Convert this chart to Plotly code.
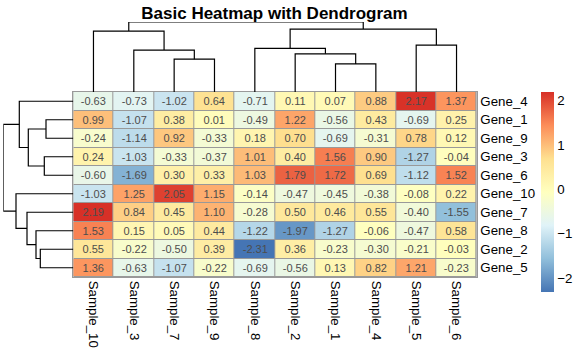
import plotly.graph_objects as go

# ---------------- data ----------------
samples = ["Sample_10", "Sample_3", "Sample_7", "Sample_9", "Sample_8",
           "Sample_2", "Sample_1", "Sample_4", "Sample_5", "Sample_6"]
genes = ["Gene_4", "Gene_1", "Gene_9", "Gene_3", "Gene_6",
         "Gene_10", "Gene_7", "Gene_8", "Gene_2", "Gene_5"]

gene_4 = [-0.63, -0.73, -1.02, 0.64, -0.71, 0.11, 0.07, 0.88, 2.17, 1.37]
gene_1 = [0.99, -1.07, 0.38, 0.01, -0.49, 1.22, -0.56, 0.43, -0.69, 0.25]
gene_9 = [-0.24, -1.14, 0.92, -0.33, 0.18, 0.70, -0.69, -0.31, 0.78, 0.12]
gene_3 = [0.24, -1.03, -0.33, -0.37, 1.01, 0.40, 1.56, 0.90, -1.27, -0.04]
gene_6 = [-0.60, -1.69, 0.30, 0.33, 1.03, 1.79, 1.72, 0.69, -1.12, 1.52]
gene_10 = [-1.03, 1.25, 2.05, 1.15, -0.14, -0.47, -0.45, -0.38, -0.08, 0.22]
gene_7 = [2.19, 0.84, 0.45, 1.10, -0.28, 0.50, 0.46, 0.55, -0.40, -1.55]
gene_8 = [1.53, 0.15, 0.05, 0.44, -1.22, -1.97, -1.27, -0.06, -0.47, 0.58]
gene_2 = [0.55, -0.22, -0.50, 0.39, -2.31, 0.36, -0.23, -0.30, -0.21, -0.03]
gene_5 = [1.36, -0.63, -1.07, -0.22, -0.69, -0.56, 0.13, 0.82, 1.21, -0.23]
values = [gene_4, gene_1, gene_9, gene_3, gene_6, gene_10, gene_7, gene_8, gene_2, gene_5]

# column tree merges: (node id, left, right, height)
col_merge_ids = ["c0", "c1", "c2", "c3", "c4", "c5", "c6", "c7", "c8"]
col_merge_left = ["Sample_7", "Sample_1", "Sample_2", "Sample_3", "Sample_8", "Sample_5", "Sample_10", "c4", "c6"]
col_merge_right = ["Sample_9", "Sample_4", "c1", "c0", "c2", "Sample_6", "c3", "c5", "c7"]
col_merge_height = [3.27, 2.80, 3.80, 4.17, 4.35, 4.67, 6.07, 6.27, 6.97]

# row tree merges
row_merge_ids = ["r0", "r1", "r2", "r3", "r4", "r5", "r6", "r7", "r8"]
row_merge_left = ["Gene_1", "Gene_3", "Gene_2", "Gene_8", "r0", "Gene_7", "Gene_4", "Gene_10", "r6"]
row_merge_right = ["Gene_9", "Gene_6", "Gene_5", "r2", "r1", "r3", "r4", "r5", "r7"]
row_merge_height = [2.73, 2.90, 3.30, 3.73, 4.50, 4.63, 5.40, 5.73, 7.00]

colors_rdylbu_rev = ["#4575B4", "#91BFDB", "#E0F3F8", "#FFFFBF", "#FEE090", "#FC8D59", "#D73027"]

# ---------------- helpers ----------------
def dendro_segments(leaves, ids, lefts, rights, heights):
    pos = {name: float(i) for i, name in enumerate(leaves)}
    hgt = {name: 0.0 for name in leaves}
    p_list, h_list = [], []
    for nid, a, b, h in zip(ids, lefts, rights, heights):
        pa, pb = pos[a], pos[b]
        ha, hb = hgt[a], hgt[b]
        p_list += [pa, pa, pb, pb, None]
        h_list += [ha, h, h, hb, None]
        pos[nid] = (pa + pb) / 2.0
        hgt[nid] = h
    return p_list, h_list

W, H = 581, 355
FONT = "Liberation Sans, Arial, sans-serif"

hx0, hx1 = 73.3 / W, 476.7 / W
hy0, hy1 = 1 - 277 / H, 1 - 92 / H

fig = go.Figure()

# heatmap
idx = list(range(len(samples)))
idy = list(range(len(genes)))
cs = [[i / (len(colors_rdylbu_rev) - 1), c] for i, c in enumerate(colors_rdylbu_rev)]
zmin = min(min(r) for r in values)
zmax = max(max(r) for r in values)
fig.add_trace(go.Heatmap(
    z=values, x=idx, y=idy, colorscale=cs, zmin=zmin, zmax=zmax,
    xgap=1, ygap=1,
    texttemplate="%{z:.2f}", textfont=dict(size=11, color="#4D4D4D", family=FONT),
    xaxis="x", yaxis="y",
    colorbar=dict(
        x=540.7 / W, xanchor="left", thickness=13.3, xpad=0, ypad=0,
        lenmode="pixels", len=200, y=1 - 192 / H, yanchor="middle",
        outlinewidth=0, tickvals=[-2, -1, 0, 1, 2], ticks="",
        tickfont=dict(size=13.3, family=FONT, color="black"),
    ),
    hoverinfo="skip",
))

# column dendrogram
cp, ch = dendro_segments(samples, col_merge_ids, col_merge_left, col_merge_right, col_merge_height)
fig.add_trace(go.Scatter(x=cp, y=ch, mode="lines", line=dict(color="black", width=1.2),
                         xaxis="x2", yaxis="y2", cliponaxis=False, showlegend=False, hoverinfo="skip"))

# row dendrogram
rp, rh = dendro_segments(genes, row_merge_ids, row_merge_left, row_merge_right, row_merge_height)
fig.add_trace(go.Scatter(x=rh, y=rp, mode="lines", line=dict(color="black", width=1.2),
                         xaxis="x3", yaxis="y3", cliponaxis=False, showlegend=False, hoverinfo="skip"))

hidden = dict(showgrid=False, zeroline=False, showticklabels=False, ticks="", showline=False, automargin=False)

fig.update_layout(
    width=W, height=H,
    margin=dict(l=0, r=0, t=0, b=0, autoexpand=False),
    paper_bgcolor="white", plot_bgcolor="white",
    font=dict(family=FONT, color="black"),
    title=dict(text="<b>Basic Heatmap with Dendrogram</b>", x=274.5 / W, xanchor="center",
               y=1 - 13 / H, yanchor="middle", font=dict(size=17, family=FONT, color="black")),
    xaxis=dict(domain=[hx0, hx1], range=[-0.5, len(samples) - 0.5], tickvals=idx, ticktext=samples,
               tickangle=90, ticks="", showgrid=False, zeroline=False, side="bottom",
               showline=True, mirror=True, linecolor="#999999", linewidth=1, automargin=False,
               tickfont=dict(size=13.3, family=FONT, color="black"), anchor="y"),
    yaxis=dict(domain=[hy0, hy1], range=[len(genes) - 0.5, -0.5], tickvals=idy, ticktext=genes,
               side="right", ticks="", showgrid=False, zeroline=False,
               showline=True, mirror=True, linecolor="#999999", linewidth=1, automargin=False,
               tickfont=dict(size=13.3, family=FONT, color="black"), anchor="x"),
    xaxis2=dict(domain=[hx0, hx1], range=[-0.5, len(samples) - 0.5], anchor="y2", **hidden),
    yaxis2=dict(domain=[hy1, 1 - 22 / H], range=[0, max(col_merge_height)], anchor="x2", **hidden),
    xaxis3=dict(domain=[3.3 / W, hx0], range=[max(row_merge_height), 0], anchor="y3", **hidden),
    yaxis3=dict(domain=[hy0, hy1], range=[len(genes) - 0.5, -0.5], anchor="x3", **hidden),
    shapes=[dict(type="rect", xref="x domain", yref="y domain", x0=0, x1=1, y0=0, y1=1,
                 fillcolor="#999999", line=dict(width=0), layer="below")],
)

fig.write_html("out.html", config={"displayModeBar": False},
               post_script="document.body.style.margin='0';")
